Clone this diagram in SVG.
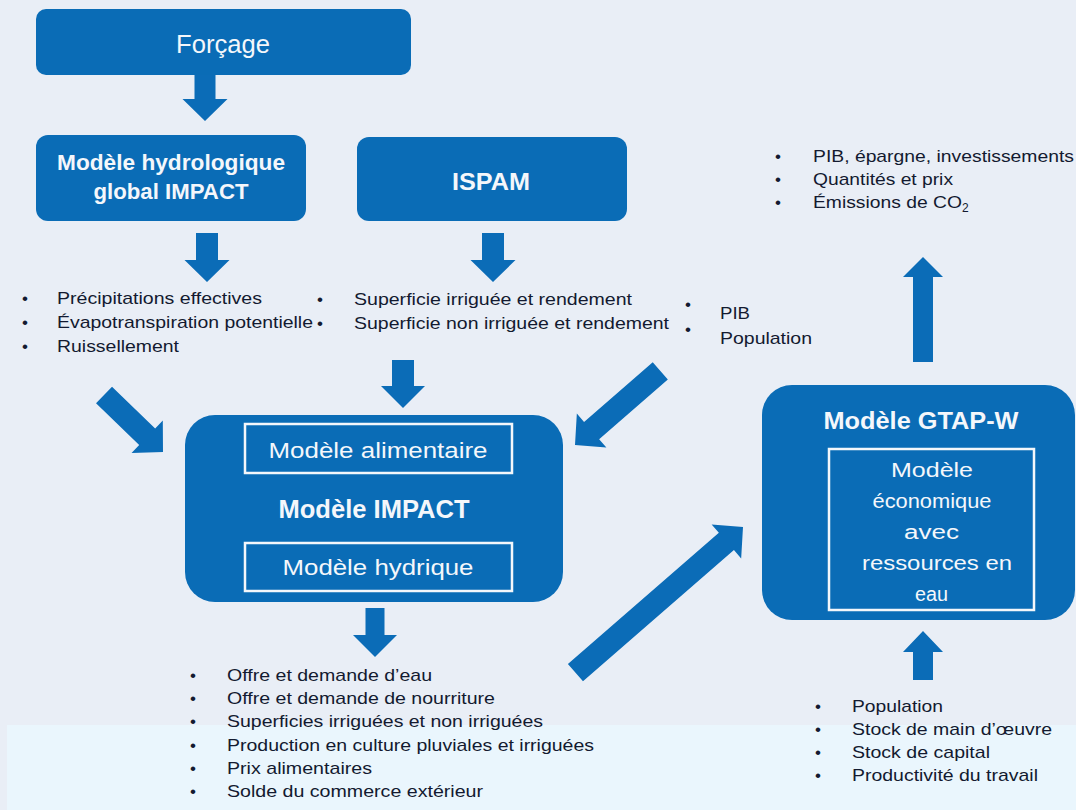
<svg xmlns="http://www.w3.org/2000/svg" width="1076" height="810" viewBox="0 0 1076 810">
<style>
.bg{fill:#e9eef6}
.band{fill:#eaf6fd}
.box{fill:#0a6cb6}
.inner{fill:none;stroke:#f4f7fb;stroke-width:2.5}
text{font-family:"Liberation Sans",Arial,Helvetica,sans-serif}
.w{fill:#f4f7fb;text-anchor:middle}
.b{font-weight:bold}
.d{fill:#131a30;font-size:17px}
.bu{fill:#131a30;font-size:17px;text-anchor:middle}
.arrow{fill:#0b6cb7}
</style>
<rect class="bg" x="0" y="0" width="1076" height="810"/>
<rect class="band" x="7" y="725" width="1069" height="85"/>

<g id="connectors">
<polygon class="arrow" transform="translate(205,121) rotate(90)" points="0,0 -22,-22.5 -22,-10.5 -46,-10.5 -46,10.5 -22,10.5 -22,22.5"/>
<polygon class="arrow" transform="translate(207,282) rotate(90)" points="0,0 -22,-22.5 -22,-11 -49,-11 -49,11 -22,11 -22,22.5"/>
<polygon class="arrow" transform="translate(493,282) rotate(90)" points="0,0 -22,-22.5 -22,-11 -49,-11 -49,11 -22,11 -22,22.5"/>
<polygon class="arrow" transform="translate(403,408) rotate(90)" points="0,0 -22,-22 -22,-11 -48,-11 -48,11 -22,11 -22,22"/>
<polygon class="arrow" transform="translate(163,452) rotate(44)" points="0,0 -22,-22.5 -22,-11.5 -82,-11.5 -82,11.5 -22,11.5 -22,22.5"/>
<polygon class="arrow" transform="translate(575,445) rotate(139)" points="0,0 -22,-22.5 -22,-11.5 -113,-11.5 -113,11.5 -22,11.5 -22,22.5"/>
<polygon class="arrow" transform="translate(375,657) rotate(90)" points="0,0 -22,-22 -22,-9.5 -49,-9.5 -49,9.5 -22,9.5 -22,22"/>
<polygon class="arrow" transform="translate(743,527) rotate(-41)" points="0,0 -22,-22.5 -22,-11.5 -222,-11.5 -222,11.5 -22,11.5 -22,22.5"/>
<polygon class="arrow" transform="translate(923,257) rotate(-90)" points="0,0 -20,-20 -20,-10 -105,-10 -105,10 -20,10 -20,20"/>
<polygon class="arrow" transform="translate(923,631) rotate(-90)" points="0,0 -21,-20 -21,-10 -49,-10 -49,10 -21,10 -21,20"/>
</g>

<g id="forcage">
<rect class="box" x="36" y="9" width="375" height="66" rx="10"/>
<text class="w" x="223" y="53" font-size="25" textLength="94" lengthAdjust="spacingAndGlyphs">Forçage</text>
</g>

<g id="hydro">
<rect class="box" x="36" y="135" width="270" height="86" rx="12"/>
<text class="w b" x="171" y="170" font-size="22.5" textLength="228" lengthAdjust="spacingAndGlyphs">Modèle hydrologique</text>
<text class="w b" x="171" y="199" font-size="22.5" textLength="155" lengthAdjust="spacingAndGlyphs">global IMPACT</text>
</g>

<g id="ispam">
<rect class="box" x="357" y="137" width="270" height="84" rx="12"/>
<text class="w b" x="491" y="190" font-size="24" textLength="78" lengthAdjust="spacingAndGlyphs">ISPAM</text>
</g>

<g id="list-hydro">
<text class="bu" x="25" y="304">•</text>
<text class="bu" x="25" y="328">•</text>
<text class="bu" x="25" y="352">•</text>
<text class="d" x="57" y="304" textLength="205" lengthAdjust="spacingAndGlyphs">Précipitations effectives</text>
<text class="d" x="57" y="328" textLength="256" lengthAdjust="spacingAndGlyphs">Évapotranspiration potentielle</text>
<text class="d" x="57" y="352" textLength="122" lengthAdjust="spacingAndGlyphs">Ruissellement</text>
</g>

<g id="list-ispam">
<text class="bu" x="320" y="305">•</text>
<text class="bu" x="320" y="329">•</text>
<text class="d" x="354" y="305" textLength="278" lengthAdjust="spacingAndGlyphs">Superficie irriguée et rendement</text>
<text class="d" x="354" y="329" textLength="315" lengthAdjust="spacingAndGlyphs">Superficie non irriguée et rendement</text>
</g>

<g id="list-pib">
<text class="bu" x="688" y="310">•</text>
<text class="bu" x="688" y="335">•</text>
<text class="d" x="720" y="319" textLength="30" lengthAdjust="spacingAndGlyphs">PIB</text>
<text class="d" x="720" y="344" textLength="92" lengthAdjust="spacingAndGlyphs">Population</text>
</g>

<g id="impact">
<rect class="box" x="185" y="415" width="378" height="187" rx="30"/>
<rect class="inner" x="245" y="424" width="267" height="49"/>
<rect class="inner" x="245" y="543" width="267" height="48"/>
<text class="w" x="378" y="458" font-size="22" textLength="219" lengthAdjust="spacingAndGlyphs">Modèle alimentaire</text>
<text class="w b" x="374" y="518" font-size="25" textLength="191" lengthAdjust="spacingAndGlyphs">Modèle IMPACT</text>
<text class="w" x="378" y="575" font-size="22" textLength="191" lengthAdjust="spacingAndGlyphs">Modèle hydrique</text>
</g>

<g id="list-impact">
<text class="bu" x="193" y="681">•</text>
<text class="bu" x="193" y="704">•</text>
<text class="bu" x="193" y="727">•</text>
<text class="bu" x="193" y="751">•</text>
<text class="bu" x="193" y="774">•</text>
<text class="bu" x="193" y="797">•</text>
<text class="d" x="227" y="681" textLength="205" lengthAdjust="spacingAndGlyphs">Offre et demande d’eau</text>
<text class="d" x="227" y="704" textLength="268" lengthAdjust="spacingAndGlyphs">Offre et demande de nourriture</text>
<text class="d" x="227" y="727" textLength="316" lengthAdjust="spacingAndGlyphs">Superficies irriguées et non irriguées</text>
<text class="d" x="227" y="751" textLength="367" lengthAdjust="spacingAndGlyphs">Production en culture pluviales et irriguées</text>
<text class="d" x="227" y="774" textLength="145" lengthAdjust="spacingAndGlyphs">Prix alimentaires</text>
<text class="d" x="227" y="797" textLength="256" lengthAdjust="spacingAndGlyphs">Solde du commerce extérieur</text>
</g>

<g id="gtap">
<rect class="box" x="762" y="385" width="313" height="235" rx="30"/>
<rect class="inner" x="829" y="449" width="205" height="161"/>
<text class="w b" x="921" y="429" font-size="24" textLength="195" lengthAdjust="spacingAndGlyphs">Modèle GTAP-W</text>
<text class="w" x="932" y="477" font-size="20" textLength="82" lengthAdjust="spacingAndGlyphs">Modèle</text>
<text class="w" x="932" y="508" font-size="20" textLength="119" lengthAdjust="spacingAndGlyphs">économique</text>
<text class="w" x="931.5" y="538.5" font-size="20" textLength="55" lengthAdjust="spacingAndGlyphs">avec</text>
<text class="w" x="937" y="569.5" font-size="20" textLength="150" lengthAdjust="spacingAndGlyphs">ressources en</text>
<text class="w" x="931.5" y="600.5" font-size="20" textLength="33" lengthAdjust="spacingAndGlyphs">eau</text>
</g>

<g id="list-gtap-out">
<text class="bu" x="778" y="162">•</text>
<text class="bu" x="778" y="185">•</text>
<text class="bu" x="778" y="208">•</text>
<text class="d" x="813" y="162" textLength="261" lengthAdjust="spacingAndGlyphs">PIB, épargne, investissements</text>
<text class="d" x="813" y="185" textLength="140" lengthAdjust="spacingAndGlyphs">Quantités et prix</text>
<text class="d" x="813" y="208"><tspan textLength="149" lengthAdjust="spacingAndGlyphs">Émissions de CO</tspan><tspan font-size="12" dy="4">2</tspan></text>
</g>

<g id="list-gtap-in">
<text class="bu" x="818" y="712">•</text>
<text class="bu" x="818" y="735">•</text>
<text class="bu" x="818" y="758">•</text>
<text class="bu" x="818" y="781">•</text>
<text class="d" x="852" y="712" textLength="91" lengthAdjust="spacingAndGlyphs">Population</text>
<text class="d" x="852" y="735" textLength="200" lengthAdjust="spacingAndGlyphs">Stock de main d’œuvre</text>
<text class="d" x="852" y="758" textLength="138" lengthAdjust="spacingAndGlyphs">Stock de capital</text>
<text class="d" x="852" y="781" textLength="186" lengthAdjust="spacingAndGlyphs">Productivité du travail</text>
</g>
</svg>
